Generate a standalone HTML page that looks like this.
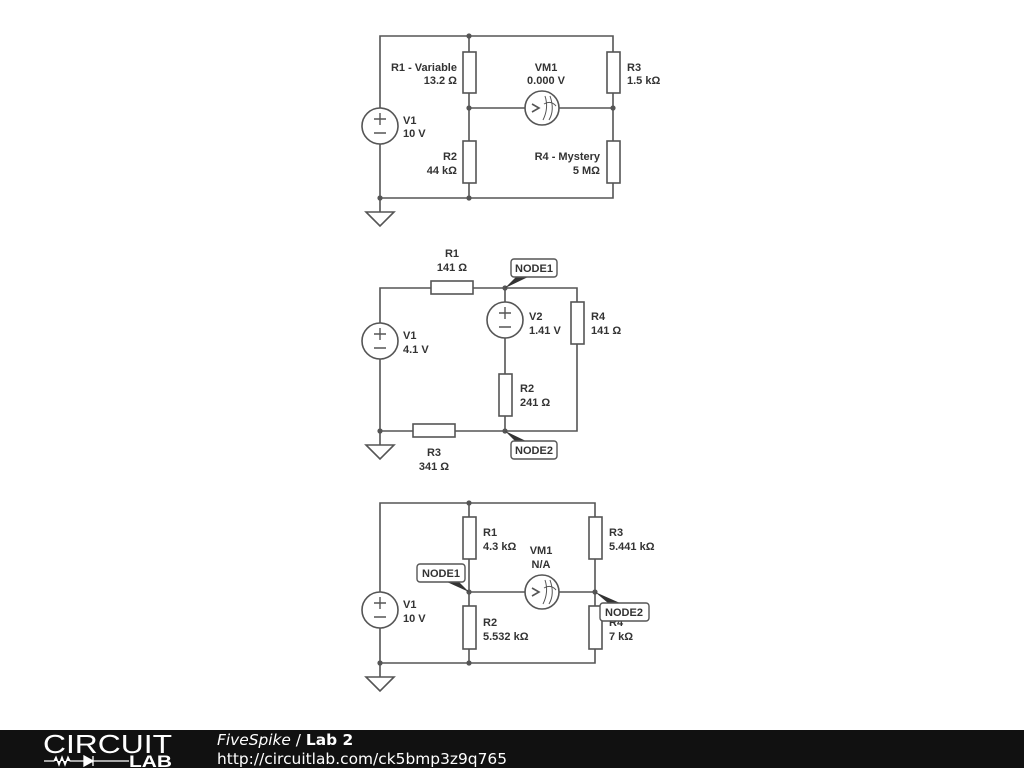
<!DOCTYPE html>
<html><head><meta charset="utf-8"><style>
html,body{margin:0;padding:0;background:#fff;width:1024px;height:768px;overflow:hidden}
svg{display:block}
text{font-family:"Liberation Sans",sans-serif;font-size:11px;font-weight:bold;fill:#333}
.w{stroke:#555;stroke-width:1.6;fill:none}
.r{stroke:#555;stroke-width:1.6;fill:#fff}
.lb{stroke:#555;stroke-width:1.4;fill:#fff}
</style></head><body>
<svg width="1024" height="768" viewBox="0 0 1024 768">
<defs>
<g id="vs"><circle cx="0" cy="0" r="18" class="r"/><path d="M-6,-7h12M0,-13v12M-6,7h12" stroke="#555" stroke-width="1.4"/></g>
<g id="vm"><circle cx="0" cy="0" r="17" class="r"/><path d="M-10,-4l7,4l-7,4" class="w"/><path d="M1,12 Q7,0 3,-12 M7,12 Q13,2 8,-12 M2,-4 Q9,-8 14,-2" stroke="#555" stroke-width="1" fill="none"/></g>
<g id="gnd"><path d="M-14,0h28l-14,14z" class="w"/></g>
</defs>
<!-- Circuit 1 -->
<path class="w" d="M380,198V36H613V198H380M469,36V198M469,108H613M380,198V212"/>
<rect class="r" x="463" y="52" width="13" height="41"/>
<rect class="r" x="463" y="141" width="13" height="42"/>
<rect class="r" x="607" y="52" width="13" height="41"/>
<rect class="r" x="607" y="141" width="13" height="42"/>
<use href="#vs" x="380" y="126"/>
<use href="#vm" x="542" y="108"/>
<use href="#gnd" x="380" y="212"/>
<g fill="#555"><circle cx="469" cy="36" r="2.6"/><circle cx="469" cy="108" r="2.6"/><circle cx="613" cy="108" r="2.6"/><circle cx="469" cy="198" r="2.6"/><circle cx="380" cy="198" r="2.6"/></g>
<text x="457" y="71" text-anchor="end">R1 - Variable</text><text x="457" y="84" text-anchor="end">13.2 Ω</text>
<text x="546" y="71" text-anchor="middle">VM1</text><text x="546" y="84" text-anchor="middle">0.000 V</text>
<text x="627" y="71">R3</text><text x="627" y="84">1.5 kΩ</text>
<text x="403" y="124">V1</text><text x="403" y="137">10 V</text>
<text x="457" y="160" text-anchor="end">R2</text><text x="457" y="174" text-anchor="end">44 kΩ</text>
<text x="600" y="160" text-anchor="end">R4 - Mystery</text><text x="600" y="174" text-anchor="end">5 MΩ</text>
<!-- Circuit 2 -->
<path class="w" d="M380,431V288H577V431H380M505,288V431M380,431V445"/>
<rect class="r" x="431" y="281" width="42" height="13"/>
<rect class="r" x="413" y="424" width="42" height="13"/>
<rect class="r" x="499" y="374" width="13" height="42"/>
<rect class="r" x="571" y="302" width="13" height="42"/>
<use href="#vs" x="380" y="341"/>
<use href="#vs" x="505" y="320"/>
<use href="#gnd" x="380" y="445"/>
<g fill="#555"><circle cx="505" cy="288" r="2.6"/><circle cx="505" cy="431" r="2.6"/><circle cx="380" cy="431" r="2.6"/></g>
<path d="M505,288L516,277h12z" fill="#333"/>
<path d="M505,431L516,442h12z" fill="#333"/>
<rect class="lb" x="511" y="259" width="46" height="18" rx="3"/><text x="534" y="272" text-anchor="middle">NODE1</text>
<rect class="lb" x="511" y="441" width="46" height="18" rx="3"/><text x="534" y="454" text-anchor="middle">NODE2</text>
<text x="452" y="257" text-anchor="middle">R1</text><text x="452" y="271" text-anchor="middle">141 Ω</text>
<text x="403" y="339">V1</text><text x="403" y="353">4.1 V</text>
<text x="529" y="320">V2</text><text x="529" y="334">1.41 V</text>
<text x="591" y="320">R4</text><text x="591" y="334">141 Ω</text>
<text x="520" y="392">R2</text><text x="520" y="406">241 Ω</text>
<text x="434" y="456" text-anchor="middle">R3</text><text x="434" y="470" text-anchor="middle">341 Ω</text>
<!-- Circuit 3 -->
<path class="w" d="M380,663V503H595V663H380M469,503V663M469,592H595M380,663V677"/>
<rect class="r" x="463" y="517" width="13" height="42"/>
<rect class="r" x="463" y="606" width="13" height="43"/>
<rect class="r" x="589" y="517" width="13" height="42"/>
<rect class="r" x="589" y="606" width="13" height="43"/>
<use href="#vs" x="380" y="610"/>
<use href="#vm" x="542" y="592"/>
<use href="#gnd" x="380" y="677"/>
<g fill="#555"><circle cx="469" cy="503" r="2.6"/><circle cx="469" cy="592" r="2.6"/><circle cx="595" cy="592" r="2.6"/><circle cx="469" cy="663" r="2.6"/><circle cx="380" cy="663" r="2.6"/></g>
<text x="483" y="536">R1</text><text x="483" y="550">4.3 kΩ</text>
<text x="541" y="554" text-anchor="middle">VM1</text><text x="541" y="568" text-anchor="middle">N/A</text>
<text x="609" y="536">R3</text><text x="609" y="550">5.441 kΩ</text>
<text x="403" y="608">V1</text><text x="403" y="622">10 V</text>
<text x="483" y="626">R2</text><text x="483" y="640">5.532 kΩ</text>
<text x="609" y="626">R4</text><text x="609" y="640">7 kΩ</text>
<path d="M469,592L447,582h12z" fill="#333"/>
<path d="M595,592L608,603h12z" fill="#333"/>
<rect class="lb" x="417" y="564" width="48" height="18" rx="3"/><text x="441" y="577" text-anchor="middle">NODE1</text>
<rect class="lb" x="600" y="603" width="49" height="18" rx="3"/><text x="624" y="616" text-anchor="middle">NODE2</text>
<!-- footer -->
<rect x="0" y="730" width="1024" height="38" fill="#111"/>
<text x="43" y="753" textLength="129" lengthAdjust="spacingAndGlyphs" style="font-size:26px;font-weight:normal;fill:#fff">CIRCUIT</text>
<path d="M44,761h10l2,-4l3,8l3,-8l3,8l3,-8l2,4h14M84,756v10l9,-5zM93,756v10M93,761h36" stroke="#fff" stroke-width="1.3" fill="#fff"/>
<text x="129" y="767" textLength="43" lengthAdjust="spacingAndGlyphs" style="font-size:17px;font-weight:bold;fill:#fff">LAB</text>
<text x="217" y="745" style="font-size:15.4px;font-weight:normal;fill:#fff;font-family:'DejaVu Sans',sans-serif"><tspan font-style="italic">FiveSpike</tspan> / <tspan font-weight="bold">Lab 2</tspan></text>
<text x="217" y="764" textLength="290" style="font-size:15.4px;font-weight:normal;fill:#fff;font-family:'DejaVu Sans',sans-serif">http://circuitlab.com/ck5bmp3z9q765</text>
</svg>
</body></html>
